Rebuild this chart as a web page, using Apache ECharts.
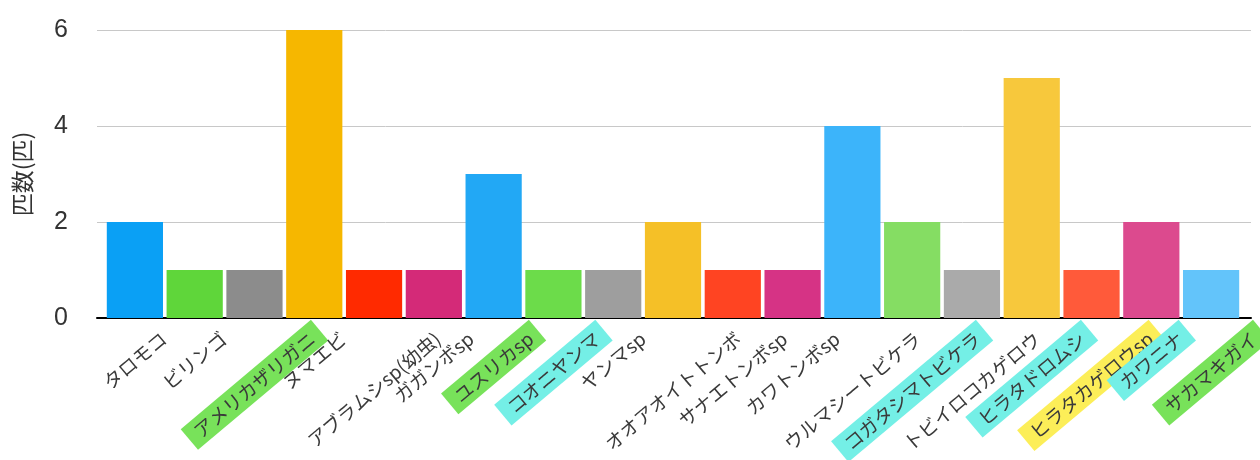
<!DOCTYPE html>
<html>
<head>
<meta charset="utf-8">
<script src="https://cdn.jsdelivr.net/npm/echarts@6/dist/echarts.min.js"></script>
<style>html,body{margin:0;padding:0;background:#fff;}#c{width:1260px;height:460px;}</style>
</head>
<body>
<div id="c"></div>
<script>
// ---- data ----
const categories = ['タロモコ','ビリンゴ','アメリカザリガニ','ヌマエビ','アブラムシsp(幼虫)','ガガンボsp','ユスリカsp','コオニヤンマ','ヤンマsp','オオアオイトトンボ','サナエトンボsp','カワトンボsp','ウルマシートビケラ','コガタシマトビケラ','トビイロコカゲロウ','ヒラタドロムシ','ヒラタカゲロウsp','カワニナ','サカマキガイ'];
const counts = [2,1,1,6,1,1,3,1,1,2,1,1,4,2,1,5,1,2,1];
const yTicks = [0,2,4,6];
const yAxisTitle = '匹数(匹)';

// ---- styles ----
const barColors = ['#0aa0f5','#5fd63a','#8c8c8c','#f6b700','#ff2a00','#d42a78','#22a8f5','#6cdc4a','#9e9e9e','#f5c027','#ff4422','#d63385','#3cb4fa','#85dd63','#aaaaaa','#f7c83c','#ff5a3a','#dc4a8e','#63c4fa'];
const HL = {g:'#78e25a', c:'#74efe6', y:'#fcee58'};
const labelHighlight = [null,null,'g',null,null,null,'g','c',null,null,null,null,null,'c',null,'c','y','c','g'];

const LABEL_FONT_SIZE = 19;
const LABEL_FONT = LABEL_FONT_SIZE + 'px "Noto Sans CJK JP", sans-serif';
const ANGLE = 40 * Math.PI / 180;
const measureCtx = document.createElement('canvas').getContext('2d');
measureCtx.font = LABEL_FONT;

const chart = echarts.init(document.getElementById('c'));
const gridTop = 30, gridBottom = 142;
chart.setOption({
  animation: false,
  backgroundColor: '#ffffff',
  grid: [
    {left: 97, right: 9, top: gridTop, bottom: gridBottom},
    {left: 105, right: 19, top: gridTop, bottom: gridBottom}
  ],
  xAxis: [
    {type: 'value', gridIndex: 0, min: 0, max: 1, axisLabel: {show: false}, axisTick: {show: false}, splitLine: {show: false},
     axisLine: {show: true, lineStyle: {color: '#000', width: 2}}},
    {type: 'category', gridIndex: 1, data: categories, axisLabel: {show: false}, axisTick: {show: false}, axisLine: {show: false}}
  ],
  yAxis: [
    {type: 'value', gridIndex: 0, min: 0, max: 6, interval: 2,
     axisLabel: {color: '#333', fontSize: 25, fontFamily: '"Liberation Sans", Arial, sans-serif', margin: 29,
       formatter: v => yTicks.includes(v) ? String(v) : ''},
     axisLine: {show: false}, axisTick: {show: false},
     splitLine: {lineStyle: {color: '#c8c8c8', width: 1}},
     name: yAxisTitle, nameLocation: 'middle', nameGap: 63,
     nameTextStyle: {color: '#333', fontSize: 23, fontFamily: '"Noto Sans CJK JP", sans-serif'}},
    {type: 'value', gridIndex: 1, min: 0, max: 6, interval: 2, show: false}
  ],
  series: [
    {type: 'bar', xAxisIndex: 1, yAxisIndex: 1, barCategoryGap: '6%',
     data: counts.map((v, i) => ({value: v, itemStyle: {color: barColors[i]}}))},
    {type: 'custom', xAxisIndex: 1, yAxisIndex: 1, clip: false, silent: true, z: 5,
     data: categories.map((c, i) => [i, 0]),
     renderItem: function (params, api) {
       const i = api.value(0);
       const p = api.coord([i, 0]);
       const text = categories[i];
       const w = measureCtx.measureText(text).width;
       const hl = labelHighlight[i];
       const cx = p[0];
       const cy = p[1] + 18 + (w / 2) * Math.sin(ANGLE);
       return {
         type: 'text',
         x: cx, y: cy, rotation: ANGLE,
         style: {
           text: text, font: LABEL_FONT, fill: '#3a3a3a',
           align: 'center', verticalAlign: 'middle',
           backgroundColor: hl ? HL[hl] : null,
           padding: hl ? [4, 9] : 0
         }
       };
     }}
  ]
});
</script>
</body>
</html>
